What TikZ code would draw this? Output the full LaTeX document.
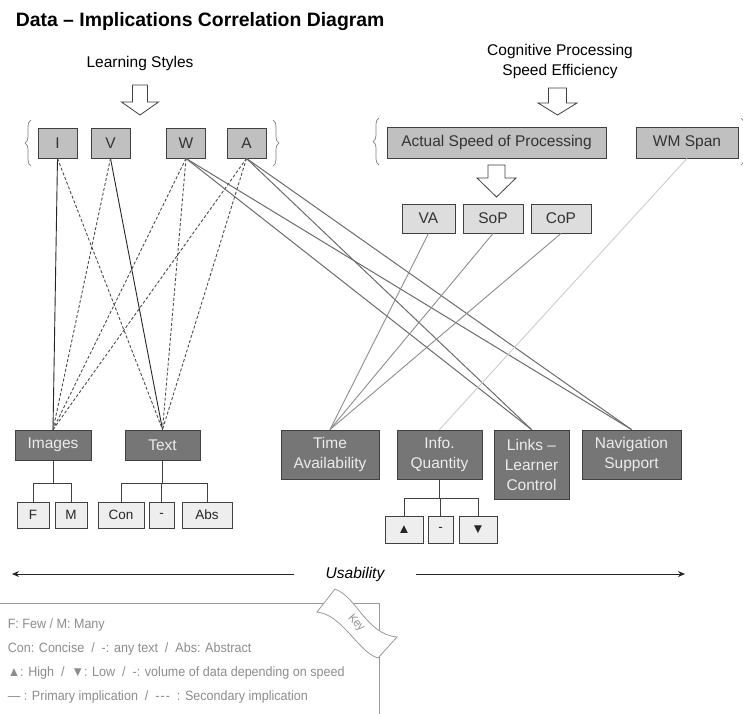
\documentclass[tikz,border=0pt]{standalone}
\usepackage{fontspec}
\setmainfont{Liberation Sans}
\newfontfamily\keyfont[FakeStretch=0.93]{Liberation Sans}
\usetikzlibrary{decorations.pathreplacing, arrows.meta}

\definecolor{topgray}{RGB}{192,192,192}
\definecolor{speedgray}{RGB}{221,221,221}
\definecolor{darkbox}{RGB}{118,118,118}
\definecolor{subgray}{RGB}{238,238,238}
\definecolor{edgegray}{RGB}{64,64,64}
\definecolor{boxtext}{RGB}{236,236,236}
\definecolor{keygray}{RGB}{140,140,140}

\begin{document}
\begin{tikzpicture}[
        x = 1pt, y = -1pt, % pixel grid, y going down
        > = {Stealth[length=7pt, width=6pt]}, % arrow head style
        line width = 0.9pt,
        every node/.style = {font=\fontsize{15.5}{20}\selectfont},
        box/.style = {draw=edgegray, inner sep=0pt, align=center},
        topbox/.style = {box, fill=topgray, text=black!80},
        speedbox/.style = {box, fill=speedgray, text=black!80},
        implbox/.style = {box, fill=darkbox, text=boxtext},
        subbox/.style = {box, fill=subgray, text=black!85, font=\fontsize{13.5}{16}\selectfont},
        tree/.style = {draw=edgegray},
        primary/.style = {draw=black!85},
        secondary/.style = {draw=black!70, dash pattern=on 3pt off 2pt},
        usablink/.style = {draw=black!58, line width=1pt},
        speedlink/.style = {draw=black!45},
        spanlink/.style = {draw=black!20},
        bracket/.style = {draw=black!50, line width=0.7pt, decorate, decoration={brace, amplitude=6pt}},
        blockarrow/.style = {draw=black!75, fill=white, line width=0.8pt},
        keyframe/.style = {draw=black!40, line width=0.8pt},
        keytext/.style = {anchor=west, text=keygray, font=\keyfont\fontsize{13.5}{16}\selectfont},
    ]
        \useasboundingbox (0,0) rectangle (743,713);

        % Title and headings
        \node[anchor=base west, font=\bfseries\fontsize{19.4}{23}\selectfont] (title) at (12,26) {Data – Implications Correlation Diagram};
        \node (LS) at (140,63) {Learning Styles};
        \node[align=center] (CPS) at (560,61) {Cognitive Processing\\Speed Efficiency};

        % Block arrows
        \foreach \cx/\ytop/\ybase/\ytip/\sw/\hw in {
            140/85/102/115/7.5/18.5,
            557.5/88/103/115/9/19.5,
            496.5/165/178/197/8.5/19.5} {
            \draw[blockarrow] ({\cx-\sw},\ytop) -- ({\cx+\sw},\ytop) -- ({\cx+\sw},\ybase) -- ({\cx+\hw},\ybase)
                -- (\cx,\ytip) -- ({\cx-\hw},\ybase) -- ({\cx-\sw},\ybase) -- cycle;
        }

        % Learning style boxes
        \foreach \pos/\i in {
            (57.5,143)/I,
            (110.5,143)/V,
            (186,143)/W,
            (246.5,143)/A} {
            \node[topbox, minimum width=39pt, minimum height=30pt] (\i) at \pos {\i};
        }

        % Processing boxes
        \node[topbox, minimum width=219pt, minimum height=31pt] (ASP) at (496.5,142.5) {Actual Speed of Processing};
        \node[topbox, minimum width=102pt, minimum height=31pt] (WMS) at (687,142.5) {WM Span};
        \foreach \pos/\i/\w in {
            (428.5,218.5)/VA/53pt,
            (493,218.5)/SoP/60pt,
            (561,218.5)/CoP/60pt} {
            \node[speedbox, minimum width=\w, minimum height=29pt] (\i) at \pos {\i};
        }

        % Braces
        \draw[bracket] (31,166) -- (31,120);
        \draw[bracket] (273,120) -- (273,166);
        \draw[bracket] (379,165) -- (379,118);
        \draw[bracket] (741,118) -- (741,165);

        % Implication boxes
        \foreach \pos/\i/\w/\h/\txt in {
            (53,445)/Img/76pt/30pt/Images,
            (162.5,445)/Txt/75pt/30pt/Text,
            (330,454.5)/Time/98pt/49pt/{Time\\Availability},
            (439.5,454.5)/Info/85pt/49pt/{Info.\\Quantity},
            (531.5,464.5)/Links/75pt/69pt/{Links –\\Learner\\Control},
            (631.5,454.5)/Nav/99pt/49pt/{Navigation\\Support}} {
            \node[implbox, minimum width=\w, minimum height=\h] (\i) at \pos {\txt};
        }

        % Sub boxes
        \foreach \pos/\i/\w/\txt in {
            (33,515)/F/32pt/F,
            (71,515)/M/32pt/M,
            (121,515)/Con/46pt/Con,
            (161.5,515)/Any/25pt/-,
            (207,515)/Abs/50pt/Abs} {
            \node[subbox, minimum width=\w, minimum height=26pt] (\i) at \pos {\txt};
        }
        \foreach \pos/\i/\w/\txt in {
            (404,529.5)/High/38pt/▲,
            (440.5,529.5)/Vol/25pt/-,
            (478,529.5)/Low/38pt/▼} {
            \node[subbox, minimum width=\w, minimum height=27pt] (\i) at \pos {\txt};
        }
        \foreach \p/\c in {Img/F, Img/M, Txt/Con, Txt/Any, Txt/Abs} {
            \draw[tree] (\p.south) -- ++(0,23) -| (\c.north);
        }
        \foreach \c in {High, Vol, Low} {
            \draw[tree] (Info.south) -- ++(0,19) -| (\c.north);
        }

        % Draw the implications
        \draw[primary] (I.south) -- (Img.north);
        \draw[primary] (V.south) -- (Txt.north);
        \foreach \b/\e in {I/Txt, V/Img, W/Img, W/Txt, A/Img, A/Txt} {
            \draw[secondary] (\b.south) -- (\e.north);
        }
        \foreach \b/\e in {W/Links, W/Nav, A/Links, A/Nav} {
            \draw[usablink] (\b.south) -- (\e.north);
        }
        \foreach \b in {VA, SoP, CoP} {
            \draw[speedlink] (\b.south) -- (Time.north);
        }
        \draw[spanlink] (WMS.south) -- (Info.north);

        % Usability axis
        \node[font=\itshape\fontsize{15.5}{20}\selectfont, inner xsep=31pt] (Usab) at (355,574) {Usability};
        \coordinate (ULeft) at (12,574);
        \coordinate (URight) at (685,574);
        \draw[->, black!85] (Usab) -- (ULeft);
        \draw[->, black!85] (Usab) -- (URight);

        % Key
        \draw[keyframe] (-1,603) -| (379,714);
        \draw[keyframe, fill=white] (317,612) -- (335,589) .. controls (357,597) and (366,634) .. (397,637)
            -- (378,658) .. controls (358,652) and (343,615) .. (317,612) -- cycle;
        \node[rotate=-48, inner sep=0pt, text=keygray, font=\keyfont\fontsize{11.5}{13}\selectfont] (KeyLbl) at (356,623) {Key};
        \node[keytext] (k1) at (4,625) {F: Few / M: Many};
        \node[keytext] (k2) at (4,649) {Con: Concise~~/~~-: any text~~/~~Abs: Abstract};
        \node[keytext] (k3) at (4,673) {▲: High~~/~~▼: Low~~/~~-: volume of data depending on speed};
        \node[keytext] (k4) at (4,697) {—~: Primary implication~~/~~-\kern1pt-\kern1pt-~~: Secondary implication};
    \end{tikzpicture}
\end{document}
